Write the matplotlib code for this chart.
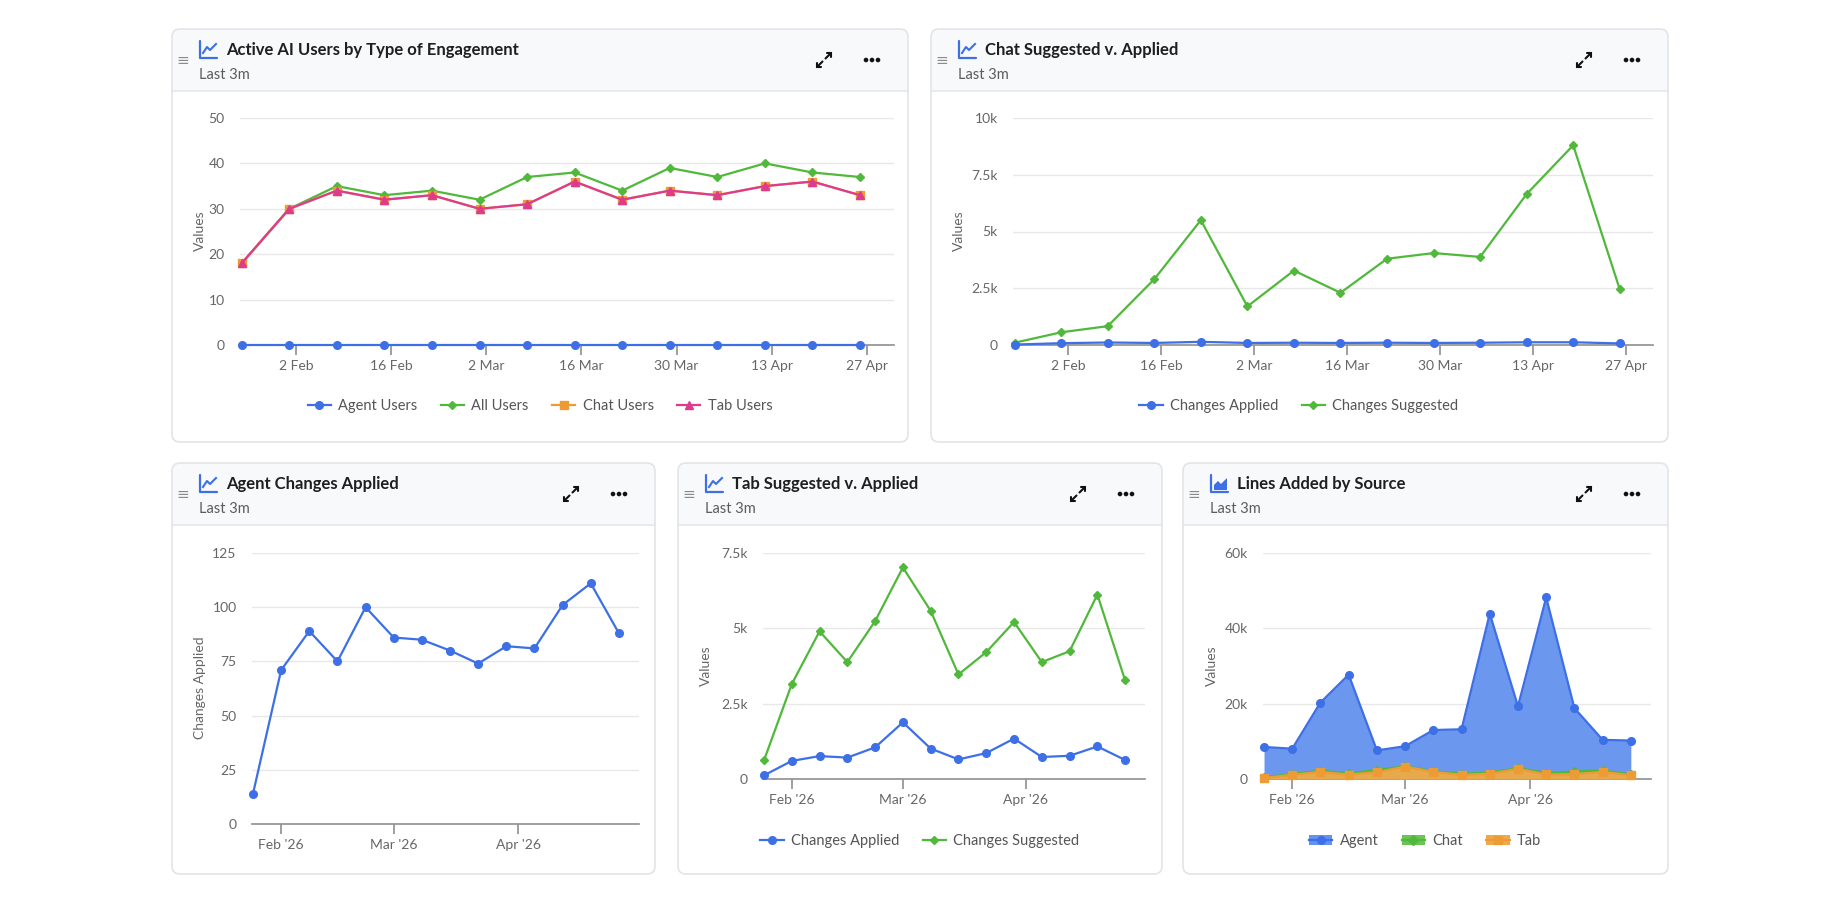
import numpy as np
import matplotlib
matplotlib.use('Agg')
import matplotlib.pyplot as plt
import matplotlib.dates as mdates
import matplotlib.transforms as mtransforms
from matplotlib.patches import FancyBboxPatch, Rectangle, Circle, Polygon, Patch
from matplotlib.lines import Line2D
from matplotlib.ticker import FuncFormatter, FixedLocator

# ---------------- data ----------------
week_dates = ['2026-01-25', '2026-02-01', '2026-02-08', '2026-02-15', '2026-02-22',
              '2026-03-01', '2026-03-08', '2026-03-15', '2026-03-22', '2026-03-29',
              '2026-04-05', '2026-04-12', '2026-04-19', '2026-04-26']

# Active AI Users by Type of Engagement
agent_users = [0, 0, 0, 0, 0, 0, 0, 0, 0, 0, 0, 0, 0, 0]
all_users = [18, 30, 35, 33, 34, 32, 37, 38, 34, 39, 37, 40, 38, 37]
chat_users = [18, 30, 34, 32, 33, 30, 31, 36, 32, 34, 33, 35, 36, 33]
tab_users = [18, 30, 34, 32, 33, 30, 31, 36, 32, 34, 33, 35, 36, 33]

# Chat Suggested v. Applied
chat_applied = [20, 80, 110, 90, 140, 90, 100, 90, 100, 90, 100, 120, 120, 70]
chat_suggested = [100, 560, 830, 2900, 5500, 1700, 3280, 2300, 3800, 4050, 3880, 6650, 8800, 2450]

# Agent Changes Applied
agent_applied = [14, 71, 89, 75, 100, 86, 85, 80, 74, 82, 81, 101, 111, 88]

# Tab Suggested v. Applied
tab_applied = [120, 600, 760, 710, 1050, 1880, 1010, 650, 860, 1340, 730, 770, 1080, 630]
tab_suggested = [620, 3150, 4900, 3880, 5240, 7020, 5580, 3470, 4210, 5210, 3880, 4240, 6120, 3270]

# Lines Added by Source
lines_agent = [8500, 8050, 20300, 27700, 7600, 8700, 13000, 13200, 43900, 19300, 48200, 18800, 10400, 10200]
lines_chat = [500, 1300, 2200, 1500, 2400, 3400, 2100, 1400, 1700, 2900, 1600, 2000, 2300, 1200]
lines_tab = [300, 1100, 1900, 1150, 1800, 3300, 1900, 1100, 1400, 2700, 1200, 1200, 1900, 1000]

top_tick_dates = ['2026-02-02', '2026-02-16', '2026-03-02', '2026-03-16', '2026-03-30', '2026-04-13', '2026-04-27']
top_tick_labels = ['2 Feb', '16 Feb', '2 Mar', '16 Mar', '30 Mar', '13 Apr', '27 Apr']
month_tick_dates = ['2026-02-01', '2026-03-01', '2026-04-01']
month_tick_labels = ["Feb '26", "Mar '26", "Apr '26"]

# ---------------- style ----------------
FONT = ['Lato', 'DejaVu Sans']
plt.rcParams['font.family'] = FONT
BLUE = '#3d6fe6'
GREEN = '#50b83a'
ORANGE = '#ec9b35'
PINK = '#de3b8d'
FILL_BLUE = '#6492ef'
FILL_GREEN = '#6cc456'
FILL_ORANGE = '#f0a84c'
TXT = '#666666'
GRID = '#e8e8e8'
AXIS = '#8f8f8f'

W, H = 1840, 900
fig = plt.figure(figsize=(W / 100, H / 100), dpi=100)
fig.patch.set_facecolor('white')
PX = mtransforms.Affine2D().scale(1 / W, -1 / H).translate(0, 1) + fig.transFigure

x_dates = mdates.datestr2num(week_dates)
xlim = (mdates.datestr2num('2026-01-24 18:00'), mdates.datestr2num('2026-05-01'))


def add_axes(x0, y0, x1, y1):
    return fig.add_axes([x0 / W, 1 - y1 / H, (x1 - x0) / W, (y1 - y0) / H])


def pxline(xs, ys, **kw):
    fig.add_artist(Line2D(xs, ys, transform=PX, **kw))


def line_icon(cx, cy, area=False):
    pxline([cx - 8, cx - 8, cx + 9], [cy - 9, cy + 8, cy + 8],
           color=BLUE, lw=1.6, solid_capstyle='round')
    if area:
        fig.add_artist(Polygon([[cx - 5, cy + 6], [cx - 5, cy + 1], [cx - 1, cy - 3], [cx + 2, cy],
                                [cx + 8, cy - 6], [cx + 8, cy + 6]], closed=True,
                               transform=PX, facecolor=BLUE, edgecolor='none'))
    else:
        pxline([cx - 5, cx - 1, cx + 2, cx + 8], [cy + 3, cy - 3, cy, cy - 6],
               color=BLUE, lw=1.5, solid_joinstyle='round')


def panel(x0, y0, x1, y1, title, area_icon=False):
    hb = y0 + 62
    fig.add_artist(FancyBboxPatch((x0, y0), x1 - x0, y1 - y0,
                                  boxstyle='round,pad=0,rounding_size=8', transform=PX,
                                  facecolor='#f8f9fa', edgecolor='none', zorder=0))
    fig.add_artist(FancyBboxPatch((x0, hb), x1 - x0, y1 - hb,
                                  boxstyle='round,pad=0,rounding_size=8', transform=PX,
                                  facecolor='white', edgecolor='none', zorder=0))
    fig.add_artist(Rectangle((x0, hb), x1 - x0, 12, transform=PX,
                             facecolor='white', edgecolor='none', zorder=0))
    pxline([x0, x1], [hb, hb], color='#e6e8eb', lw=1.2, zorder=0.5)
    fig.add_artist(FancyBboxPatch((x0, y0), x1 - x0, y1 - y0,
                                  boxstyle='round,pad=0,rounding_size=8', transform=PX,
                                  facecolor='none', edgecolor='#e2e4e7', lw=1.2, zorder=0.6))
    # header texts / icons
    fig.text(x0 + 11, y0 + 31, '≡', transform=PX, ha='center', va='center',
             fontsize=11, color='#8a8a8a', family=['DejaVu Sans'])
    line_icon(x0 + 36, y0 + 21, area=area_icon)
    fig.text(x0 + 54, y0 + 21, title, transform=PX, ha='left', va='center',
             fontsize=12, fontweight='bold', color='#1f1f1f')
    fig.text(x0 + 27, y0 + 46, 'Last 3m', transform=PX, ha='left', va='center',
             fontsize=10.5, color='#5c5c5c')
    # expand icon (two outward arrows)
    ex, ey = x1 - 84, y0 + 31
    kw = dict(color='#111111', lw=1.5, solid_capstyle='round', solid_joinstyle='miter')
    pxline([ex + 1.5, ex + 7], [ey - 1.5, ey - 7], **kw)
    pxline([ex + 3, ex + 7, ex + 7], [ey - 7, ey - 7, ey - 3], **kw)
    pxline([ex - 1.5, ex - 7], [ey + 1.5, ey + 7], **kw)
    pxline([ex - 3, ex - 7, ex - 7], [ey + 7, ey + 7, ey + 3], **kw)
    # dots
    dx = x1 - 36
    for k in (-6, 0, 6):
        fig.add_artist(Circle((dx + k, ey), 1.6, transform=PX, color='#111111'))


def style_ax(ax, ymax, yticks, fmt, dates_kind):
    ax.set_facecolor('none')
    for s in ('top', 'right', 'left'):
        ax.spines[s].set_visible(False)
    ax.spines['bottom'].set_color(AXIS)
    ax.spines['bottom'].set_linewidth(1.2)
    ax.set_ylim(0, ymax)
    ax.yaxis.set_major_locator(FixedLocator(yticks))
    ax.yaxis.set_major_formatter(FuncFormatter(fmt))
    ax.grid(axis='y', color=GRID, lw=1)
    ax.grid(axis='x', visible=False)
    ax.set_axisbelow(True)
    ax.tick_params(axis='y', length=0, pad=11, labelcolor=TXT, labelsize=10)
    ax.tick_params(axis='x', length=7, width=1.2, color=AXIS, pad=4, labelcolor=TXT, labelsize=10)
    ax.set_xlim(*xlim)
    if dates_kind == 'top':
        ax.set_xticks(mdates.datestr2num(top_tick_dates))
        ax.set_xticklabels(top_tick_labels)
    else:
        ax.set_xticks(mdates.datestr2num(month_tick_dates))
        ax.set_xticklabels(month_tick_labels)


def kfmt(v, p):
    if v == 0:
        return '0'
    k = v / 1000
    return ('%g' % k) + 'k'


def ifmt(v, p):
    return '%d' % v


def ylabel(text, x, y):
    fig.text(x, y, text, transform=PX, rotation=90, ha='center', va='center',
             fontsize=10, color=TXT)


def legend(handles, labels, cx, cy, ncol):
    fig.legend(handles, labels, loc='center', bbox_to_anchor=(cx / W, 1 - cy / H),
               ncol=ncol, frameon=False, fontsize=10.5, labelcolor='#555555',
               handlelength=1.6, handletextpad=0.5, columnspacing=1.6)


# ---------------- panels ----------------
panel(172, 29, 908, 442, 'Active AI Users by Type of Engagement')
panel(931, 29, 1668, 442, 'Chat Suggested v. Applied')
panel(172, 463, 655, 874, 'Agent Changes Applied')
panel(678, 463, 1162, 874, 'Tab Suggested v. Applied')
panel(1183, 463, 1668, 874, 'Lines Added by Source', area_icon=True)

MS = 5.5
LW = 1.6

# Chart 1
ax1 = add_axes(240, 118, 894, 345)
style_ax(ax1, 50, [0, 10, 20, 30, 40, 50], ifmt, 'top')
h1 = ax1.plot(x_dates, agent_users, color=BLUE, lw=LW, marker='o', ms=MS, clip_on=False, zorder=5)[0]
h2 = ax1.plot(x_dates, all_users, color=GREEN, lw=LW, marker='D', ms=4, clip_on=False, zorder=3)[0]
h3 = ax1.plot(x_dates, chat_users, color=ORANGE, lw=LW, marker='s', ms=6, clip_on=False, zorder=3)[0]
h4 = ax1.plot(x_dates, tab_users, color=PINK, lw=LW, marker='^', ms=5.5, clip_on=False, zorder=4)[0]
ylabel('Values', 200, 231)
legend([h1, h2, h3, h4], ['Agent Users', 'All Users', 'Chat Users', 'Tab Users'], 540, 406, 4)

# Chart 2
ax2 = add_axes(1013, 118, 1653, 345)
style_ax(ax2, 10000, [0, 2500, 5000, 7500, 10000], kfmt, 'top')
g1 = ax2.plot(x_dates, chat_applied, color=BLUE, lw=LW, marker='o', ms=MS, clip_on=False, zorder=5)[0]
g2 = ax2.plot(x_dates, chat_suggested, color=GREEN, lw=LW, marker='D', ms=4, clip_on=False, zorder=4)[0]
ylabel('Values', 959, 231)
legend([g1, g2], ['Changes Applied', 'Changes Suggested'], 1299, 406, 2)

# Chart 3
ax3 = add_axes(252, 553, 639, 824)
style_ax(ax3, 125, [0, 25, 50, 75, 100, 125], ifmt, 'month')
ax3.plot(x_dates, agent_applied, color=BLUE, lw=LW, marker='o', ms=MS, clip_on=False, zorder=5)
ylabel('Changes Applied', 200, 688)

# Chart 4
ax4 = add_axes(763, 553, 1145, 779)
style_ax(ax4, 7500, [0, 2500, 5000, 7500], kfmt, 'month')
t1 = ax4.plot(x_dates, tab_applied, color=BLUE, lw=LW, marker='o', ms=MS, clip_on=False, zorder=5)[0]
t2 = ax4.plot(x_dates, tab_suggested, color=GREEN, lw=LW, marker='D', ms=4, clip_on=False, zorder=4)[0]
ylabel('Values', 706, 666)
legend([t1, t2], ['Changes Applied', 'Changes Suggested'], 920, 841, 2)

# Chart 5
ax5 = add_axes(1263, 553, 1651, 779)
style_ax(ax5, 60000, [0, 20000, 40000, 60000], kfmt, 'month')
series5 = [(lines_agent, BLUE, FILL_BLUE, 'o', 'Agent'),
           (lines_chat, GREEN, FILL_GREEN, 'D', 'Chat'),
           (lines_tab, ORANGE, FILL_ORANGE, 's', 'Tab')]
handles5 = []
for i, (vals, col, fcol, mk, lab) in enumerate(series5):
    ax5.fill_between(x_dates, 0, vals, color=fcol, alpha=0.95, lw=0, zorder=2 + i)
    ax5.plot(x_dates, vals, color=col, lw=LW, marker=mk, ms=MS if mk != 'D' else 4,
             clip_on=False, zorder=2.5 + i)
    handles5.append((Patch(facecolor=fcol, edgecolor='none'),
                     Line2D([], [], color=col, lw=LW, marker=mk, ms=MS)))
ylabel('Values', 1212, 666)
legend(handles5, ['Agent', 'Chat', 'Tab'], 1425, 841, 3)

fig.savefig('out.png', dpi=100, facecolor='white')
